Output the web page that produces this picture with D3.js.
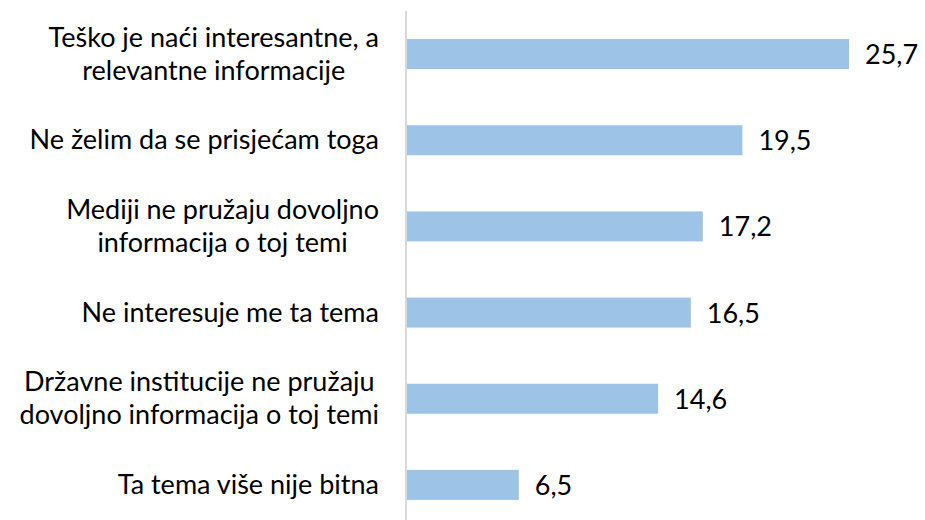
<!DOCTYPE html>
<html>
<head>
<meta charset="utf-8">
<script src="https://cdn.jsdelivr.net/npm/d3@7"></script>
<style>
  body { margin: 0; background: #fff; }
  svg text { font-family: Lato, "Open Sans", sans-serif; fill: #000; }
</style>
</head>
<body>
<svg id="graf" width="925" height="520"></svg>
<script>
// kategorije (svaka linija posebno) i vrijednosti
const kategorije = [
  ["Teško je naći interesantne, a", "relevantne informacije"],
  ["Ne želim da se prisjećam toga"],
  ["Mediji ne pružaju dovoljno", "informacija o toj temi"],
  ["Ne interesuje me ta tema"],
  ["Državne institucije ne pružaju", "dovoljno informacija o toj temi"],
  ["Ta tema više nije bitna"]
];
const vrijednosti = [25.7, 19.5, 17.2, 16.5, 14.6, 6.5];
const oznake = ["25,7", "19,5", "17,2", "16,5", "14,6", "6,5"];

const svg = d3.select("#graf");

const x0 = 407;
const xScale = d3.scaleLinear()
  .domain([0, 30])
  .range([x0, x0 + 30 * 17.2]);

const yScale = d3.scaleBand()
  .domain(d3.range(vrijednosti.length))
  .range([11, 528])
  .paddingInner(0.652)
  .paddingOuter(0.326);

// stupci
svg.selectAll("rect.bar")
  .data(vrijednosti)
  .enter()
  .append("rect")
  .attr("class", "bar")
  .attr("x", x0)
  .attr("y", (d, i) => yScale(i))
  .attr("width", d => xScale(d) - x0)
  .attr("height", yScale.bandwidth())
  .attr("fill", "#9dc3e6");

// os
svg.append("line")
  .attr("x1", 406).attr("x2", 406)
  .attr("y1", 11).attr("y2", 520)
  .attr("stroke", "#d9d9d9")
  .attr("stroke-width", 2);

// natpisi kategorija
const desno = 379;
kategorije.forEach((linije, i) => {
  const cy = yScale(i) + yScale.bandwidth() / 2;
  const g = svg.append("g");
  const t = g.selectAll("text")
    .data(linije)
    .enter()
    .append("text")
    .attr("font-size", 27)
    .attr("text-anchor", "middle")
    .attr("y", (d, j) => cy + 9 + (j - (linije.length - 1) / 2) * 33)
    .text(d => d);
  let maxW = 0;
  t.each(function () { maxW = Math.max(maxW, this.getComputedTextLength()); });
  t.attr("x", desno - maxW / 2);
});

// vrijednosti
svg.selectAll("text.val")
  .data(vrijednosti)
  .enter()
  .append("text")
  .attr("class", "val")
  .attr("font-size", 27)
  .attr("x", d => xScale(d) + 16)
  .attr("y", (d, i) => yScale(i) + yScale.bandwidth() / 2 + 10)
  .text((d, i) => oznake[i]);
</script>
</body>
</html>
